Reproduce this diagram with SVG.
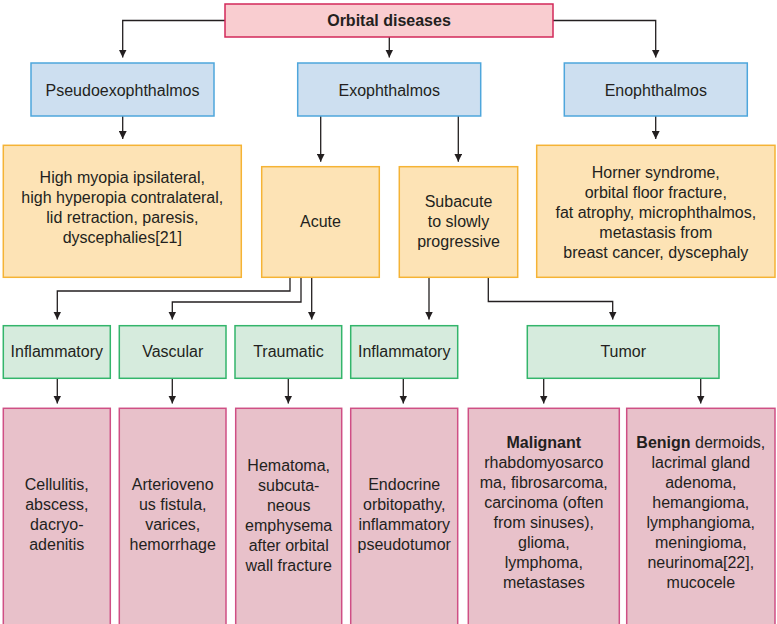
<svg xmlns="http://www.w3.org/2000/svg" width="777" height="624" viewBox="0 0 777 624">
  <defs>
    <marker id="arrow" markerUnits="userSpaceOnUse" markerWidth="8" markerHeight="8" refX="8" refY="4" orient="auto">
      <path d="M0,0 L8,4 L0,8 z" fill="#231f20"/>
    </marker>
    <style>
      text { font-family: "Liberation Sans", Arial, sans-serif; font-size: 16px; fill: #231f20; text-anchor: middle; }
      .b { font-weight: bold; }
      .root { fill: #f9cdd0; stroke: #d2285a; stroke-width: 1.5; }
      .blue { fill: #cddff0; stroke: #4ea6dc; stroke-width: 1.5; }
      .orange { fill: #fde3b5; stroke: #f5b335; stroke-width: 1.5; }
      .green { fill: #d6ebdd; stroke: #33b56b; stroke-width: 1.5; }
      .pink { fill: #e8c1ca; stroke: #cf4f85; stroke-width: 1.5; }
      .conn path { fill: none; stroke: #231f20; stroke-width: 1.3; marker-end: url(#arrow); }
    </style>
  </defs>
  <rect width="777" height="624" fill="#ffffff"/>

  <g class="conn" id="connectors">
    <path d="M225,20.5 H122.7 V57.5"/>
    <path d="M389.3,37 V57.5"/>
    <path d="M553,20.5 H655.7 V57.5"/>
    <path d="M122.7,116 V139"/>
    <path d="M320.7,116 V161.7"/>
    <path d="M458.3,116 V161.7"/>
    <path d="M655.7,116 V139"/>
    <path d="M290,277.3 V291 H57.3 V319.5"/>
    <path d="M301,277.3 V302 H172.3 V319.5"/>
    <path d="M311.7,277.3 V319.5"/>
    <path d="M429,277.3 V319.5"/>
    <path d="M488.3,277.3 V301.5 H612.7 V319.5"/>
    <path d="M57.3,378.3 V403.5"/>
    <path d="M172.3,378.3 V403.5"/>
    <path d="M288.3,378.3 V403.5"/>
    <path d="M403.3,378.3 V403.5"/>
    <path d="M543.7,378.3 V403.5"/>
    <path d="M700.7,378.3 V403.5"/>
  </g>

  <g id="orbital-diseases">
    <rect class="root" x="225" y="4" width="328" height="33"/>
    <text class="b" x="389" y="26">Orbital diseases</text>
  </g>

  <g id="pseudoexophthalmos">
    <rect class="blue" x="31" y="63" width="183" height="53"/>
    <text x="122.5" y="96">Pseudoexophthalmos</text>
  </g>
  <g id="exophthalmos">
    <rect class="blue" x="297.7" y="63" width="183" height="53"/>
    <text x="389.2" y="96">Exophthalmos</text>
  </g>
  <g id="enophthalmos">
    <rect class="blue" x="564.3" y="63" width="183" height="53"/>
    <text x="655.8" y="96">Enophthalmos</text>
  </g>

  <g id="pseudo-causes">
    <rect class="orange" x="3.3" y="145.3" width="238" height="132"/>
    <text x="122.3" y="183.3">High myopia ipsilateral,</text>
    <text x="122.3" y="203.3">high hyperopia contralateral,</text>
    <text x="122.3" y="223.3">lid retraction, paresis,</text>
    <text x="122.3" y="243.3">dyscephalies[21]</text>
  </g>
  <g id="acute">
    <rect class="orange" x="261.7" y="166.7" width="117.6" height="110.6"/>
    <text x="320.5" y="227.3">Acute</text>
  </g>
  <g id="subacute">
    <rect class="orange" x="399.3" y="166.7" width="118.4" height="110.6"/>
    <text x="458.5" y="207.3">Subacute</text>
    <text x="458.5" y="227.3">to slowly</text>
    <text x="458.5" y="247.3">progressive</text>
  </g>
  <g id="eno-causes">
    <rect class="orange" x="536.7" y="145.3" width="238.3" height="132"/>
    <text x="655.8" y="178.3">Horner syndrome,</text>
    <text x="655.8" y="198.3">orbital floor fracture,</text>
    <text x="655.8" y="218.3">fat atrophy, microphthalmos,</text>
    <text x="655.8" y="238.3">metastasis from</text>
    <text x="655.8" y="258.3">breast cancer, dyscephaly</text>
  </g>

  <g id="inflammatory-acute">
    <rect class="green" x="3.3" y="325.7" width="107" height="52.6"/>
    <text x="56.8" y="357.3">Inflammatory</text>
  </g>
  <g id="vascular">
    <rect class="green" x="119.3" y="325.7" width="106.7" height="52.6"/>
    <text x="172.7" y="357.3">Vascular</text>
  </g>
  <g id="traumatic">
    <rect class="green" x="235" y="325.7" width="106.7" height="52.6"/>
    <text x="288.4" y="357.3">Traumatic</text>
  </g>
  <g id="inflammatory-subacute">
    <rect class="green" x="350.7" y="325.7" width="107" height="52.6"/>
    <text x="404.2" y="357.3">Inflammatory</text>
  </g>
  <g id="tumor">
    <rect class="green" x="527.3" y="325.7" width="191.7" height="52.6"/>
    <text x="623.2" y="357.3">Tumor</text>
  </g>

  <g id="inflammatory-acute-list">
    <rect class="pink" x="3.3" y="408.3" width="107" height="222"/>
    <text x="56.8" y="490">Cellulitis,</text>
    <text x="56.8" y="510">abscess,</text>
    <text x="56.8" y="530">dacryo-</text>
    <text x="56.8" y="550">adenitis</text>
  </g>
  <g id="vascular-list">
    <rect class="pink" x="119.3" y="408.3" width="106.7" height="222"/>
    <text x="172.7" y="490">Arterioveno</text>
    <text x="172.7" y="510">us fistula,</text>
    <text x="172.7" y="530">varices,</text>
    <text x="172.7" y="550">hemorrhage</text>
  </g>
  <g id="traumatic-list">
    <rect class="pink" x="235.7" y="408.3" width="106" height="222"/>
    <text x="288.7" y="470.5">Hematoma,</text>
    <text x="288.7" y="490.5">subcuta-</text>
    <text x="288.7" y="510.5">neous</text>
    <text x="288.7" y="530.5">emphysema</text>
    <text x="288.7" y="550.5">after orbital</text>
    <text x="288.7" y="570.5">wall fracture</text>
  </g>
  <g id="inflammatory-subacute-list">
    <rect class="pink" x="350.7" y="408.3" width="107" height="222"/>
    <text x="404.2" y="490">Endocrine</text>
    <text x="404.2" y="510">orbitopathy,</text>
    <text x="404.2" y="530">inflammatory</text>
    <text x="404.2" y="550">pseudotumor</text>
  </g>
  <g id="malignant">
    <rect class="pink" x="468.3" y="408.3" width="151" height="222"/>
    <text class="b" x="543.8" y="448.3">Malignant</text>
    <text x="543.8" y="468.3">rhabdomyosarco</text>
    <text x="543.8" y="488.3">ma, fibrosarcoma,</text>
    <text x="543.8" y="508.3">carcinoma (often</text>
    <text x="543.8" y="528.3">from sinuses),</text>
    <text x="543.8" y="548.3">glioma,</text>
    <text x="543.8" y="568.3">lymphoma,</text>
    <text x="543.8" y="588.3">metastases</text>
  </g>
  <g id="benign">
    <rect class="pink" x="626.7" y="408.3" width="148.3" height="222"/>
    <text x="700.8" y="448.3"><tspan class="b">Benign</tspan> dermoids,</text>
    <text x="700.8" y="468.3">lacrimal gland</text>
    <text x="700.8" y="488.3">adenoma,</text>
    <text x="700.8" y="508.3">hemangioma,</text>
    <text x="700.8" y="528.3">lymphangioma,</text>
    <text x="700.8" y="548.3">meningioma,</text>
    <text x="700.8" y="568.3">neurinoma[22],</text>
    <text x="700.8" y="588.3">mucocele</text>
  </g>
</svg>
